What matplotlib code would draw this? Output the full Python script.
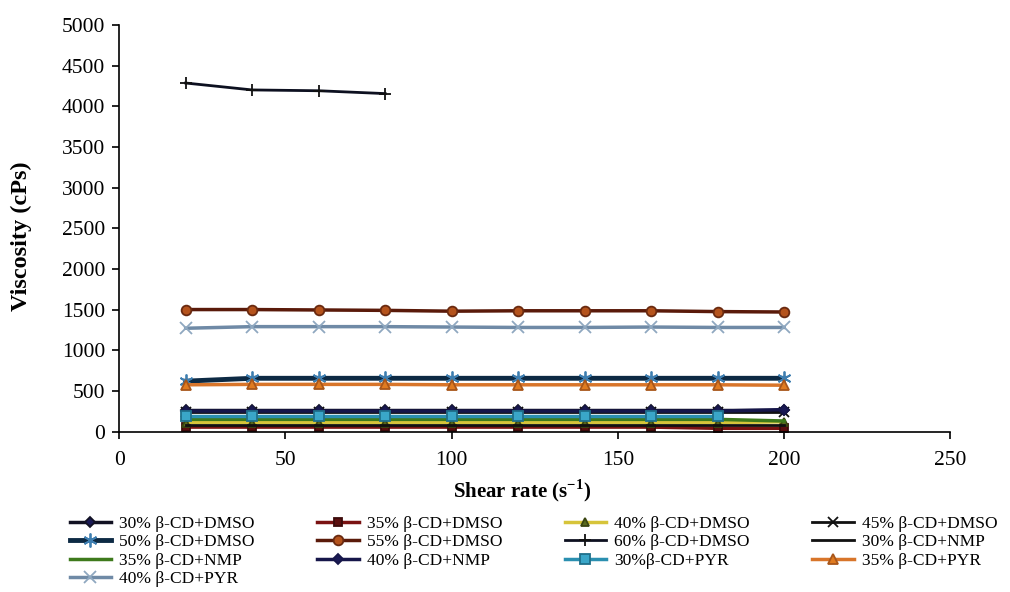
import matplotlib
matplotlib.use("Agg")
import matplotlib.pyplot as plt

plt.rcParams['font.family'] = ['Liberation Serif', 'DejaVu Serif']
plt.rcParams['mathtext.fontset'] = 'custom'
plt.rcParams['mathtext.rm'] = 'Liberation Serif:bold'
plt.rcParams['mathtext.bf'] = 'Liberation Serif:bold'

shear = [20, 40, 60, 80, 100, 120, 140, 160, 180, 200]

dmso30 = [265, 265, 265, 265, 265, 265, 265, 265, 265, 265]
dmso35 = [55, 55, 55, 55, 55, 55, 55, 55, 40, 40]
dmso40 = [110, 110, 110, 110, 110, 110, 110, 110, 110, 120]
dmso45 = [245, 245, 245, 245, 245, 245, 245, 245, 245, 245]
dmso50 = [620, 655, 655, 655, 655, 655, 655, 655, 655, 655]
dmso55 = [1500, 1500, 1495, 1490, 1480, 1485, 1485, 1485, 1475, 1470]
dmso60 = [4285, 4200, 4190, 4155]
nmp30 = [75, 75, 75, 75, 75, 75, 75, 75, 75, 75]
nmp35 = [150, 150, 150, 150, 150, 150, 150, 150, 150, 130]
nmp40 = [252, 252, 252, 252, 252, 252, 252, 252, 252, 270]
pyr30 = [190, 190, 190, 190, 190, 190, 190, 190, 190]
pyr35 = [575, 580, 580, 580, 575, 575, 575, 575, 575, 570]
pyr40 = [1270, 1290, 1290, 1290, 1285, 1280, 1280, 1285, 1280, 1280]

labels = ['30% β-CD+DMSO', '35% β-CD+DMSO', '40% β-CD+DMSO', '45% β-CD+DMSO',
          '50% β-CD+DMSO', '55% β-CD+DMSO', '60% β-CD+DMSO', '30% β-CD+NMP',
          '35% β-CD+NMP', '40% β-CD+NMP', '30%β-CD+PYR', '35% β-CD+PYR',
          '40% β-CD+PYR']
series = [dmso30, dmso35, dmso40, dmso45, dmso50, dmso55, dmso60,
          nmp30, nmp35, nmp40, pyr30, pyr35, pyr40]

# (line colour, line width, marker, marker face, marker edge, marker size)
styles = [
    ('#111122', 2.5, 'D', '#1a1a55', '#111122', 5),
    ('#7a1212', 2.5, 's', '#5a0e0e', '#3a0a0a', 6),
    ('#d6c43a', 2.5, '^', '#5a6a1e', '#3a4510', 6),
    ('#111111', 2.0, 'x', '#111111', '#111111', 7),
    ('#0d2a44', 3.5, (6, 2, 0), '#3e7eb0', '#3e7eb0', 10),
    ('#5a1a0a', 2.5, 'o', '#b5531c', '#6a2a10', 7),
    ('#0d1020', 2.0, '+', '#111111', '#111111', 9),
    ('#111111', 2.0, None, None, None, 0),
    ('#3e7a1c', 2.5, None, None, None, 0),
    ('#16164a', 2.5, 'D', '#1a1a55', '#16164a', 5),
    ('#2a8fb0', 2.5, 's', '#3aa6c8', '#1f6f8a', 7),
    ('#d8752a', 2.5, '^', '#e07b20', '#a8561a', 7),
    ('#6f8aa6', 2.5, 'x', '#8fa8c0', '#8fa8c0', 8),
]

fig = plt.figure(figsize=(10.1, 5.92), dpi=100)
ax = fig.add_axes([0.118, 0.271, 0.823, 0.687])

handles = []
for lab, ys, st in zip(labels, series, styles):
    col, lw, mk, mfc, mec, ms = st
    h, = ax.plot(shear[:len(ys)], ys, color=col, lw=lw, marker=mk,
                 markerfacecolor=mfc, markeredgecolor=mec, markersize=ms,
                 markeredgewidth=1.3, label=lab)
    handles.append(h)

ax.set_xlim(0, 250)
ax.set_ylim(0, 5000)
ax.set_xticks(range(0, 251, 50))
ax.set_yticks(range(0, 5001, 500))
for s in ('top', 'right'):
    ax.spines[s].set_visible(False)
for s in ('left', 'bottom'):
    ax.spines[s].set_linewidth(1.2)
ax.tick_params(axis='both', direction='out', length=5, width=1.2,
               labelsize=15.5, pad=5)
ax.tick_params(axis='x', pad=9)

ax.set_xlabel('Shear rate (s$^{-1}$)', fontsize=15, fontweight='bold')
ax.set_ylabel('Viscosity (cPs)', fontsize=17.5, fontweight='bold')
ax.xaxis.set_label_coords(0.485, -0.112, transform=ax.transAxes)
ax.yaxis.set_label_coords(-0.105, 0.48, transform=ax.transAxes)

# legend read row by row: reorder for matplotlib's column-first filling
order = [0, 4, 8, 12, 1, 5, 9, 2, 6, 10, 3, 7, 11]
fig.legend(handles=[handles[i] for i in order], loc='upper left',
           bbox_to_anchor=(0.062, 0.140), ncol=4, frameon=False,
           fontsize=12.5, handlelength=2.4, handletextpad=0.45,
           columnspacing=3.6, labelspacing=0.12, borderaxespad=0)

fig.savefig('out.png', dpi=100)
